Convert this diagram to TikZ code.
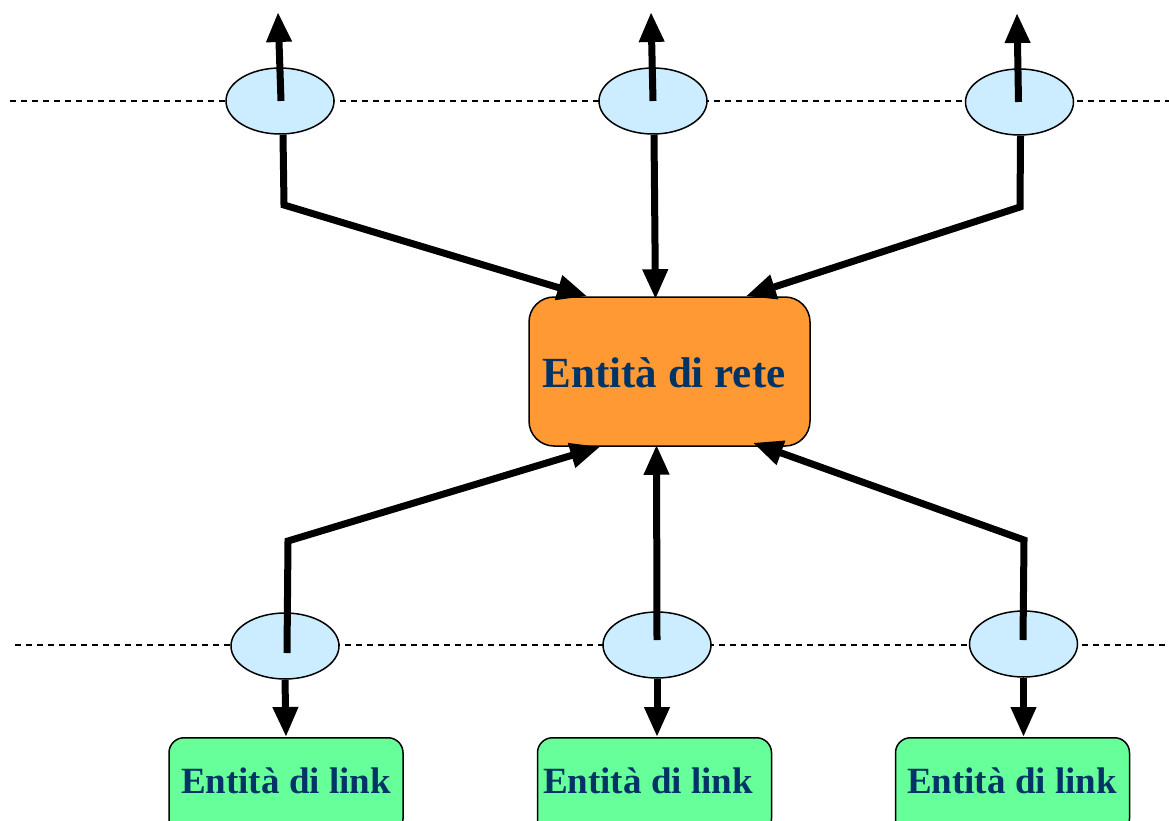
\documentclass[tikz,border=0pt]{standalone}
\usepackage{fontspec}
\setmainfont{Liberation Serif}
\usetikzlibrary{arrows.meta,shapes.geometric}
\definecolor{txtblue}{HTML}{003366}
\definecolor{reteorange}{HTML}{FF9933}
\definecolor{linkgreen}{HTML}{66FF99}
\definecolor{sapblue}{HTML}{CCECFF}
\tikzset{
  sap/.style={ellipse,draw=black,line width=1.5pt,fill=sapblue,minimum width=108pt,minimum height=66pt,inner sep=0pt},
  retebox/.style={rectangle,rounded corners=25pt,draw=black,line width=1.5pt,fill=reteorange,minimum width=281pt,minimum height=149pt,inner sep=0pt},
  linkbox/.style={rectangle,rounded corners=15pt,draw=black,line width=1.5pt,fill=linkgreen,minimum width=234pt,minimum height=96pt,inner sep=0pt},
  retetext/.style={text=txtblue,font=\bfseries\fontsize{43}{48}\selectfont,inner sep=0pt},
  linktext/.style={text=txtblue,font=\bfseries\fontsize{37}{42}\selectfont,inner sep=0pt},
  flow/.style={line width=7pt,line join=miter,-{Triangle[length=30pt,width=24pt]}},
  layer/.style={line width=1.4pt,dash pattern=on 6pt off 5pt},
}
\begin{document}
\begin{tikzpicture}[x=1pt,y=-1pt]
\useasboundingbox (0,0) rectangle (1169,821);
% dashed layer lines
\coordinate (dl1) at (10,101);
\coordinate (dr1) at (1169,101);
\coordinate (dl2) at (15,645);
\coordinate (dr2) at (1169,645);
\draw[layer] (dl1) -- (dr1);
\draw[layer] (dl2) -- (dr2);
% nodes
\node[sap] (t1) at (280,101) {};
\node[sap] (t2) at (653,101) {};
\node[sap] (t3) at (1019.5,102) {};
\node[sap] (b1) at (285,646) {};
\node[sap] (b2) at (657,645) {};
\node[sap] (b3) at (1023.5,644) {};
\node[retebox] (rete) at (669.5,371.5) {};
\node[retetext] (retet) at (664,373) {Entità di rete};
\node[linkbox,anchor=north] (l1) at (286,737) {};
\node[linkbox,anchor=north] (l2) at (654.5,737) {};
\node[linkbox,anchor=north] (l3) at (1012.5,737) {};
\node[linktext] (l1t) at (286,781) {Entità di link};
\node[linktext] (l2t) at (648,781) {Entità di link};
\node[linktext] (l3t) at (1012,781) {Entità di link};
% free ends and bends
\coordinate (u1) at (278,12);
\coordinate (u2) at (651,12);
\coordinate (u3) at (1017,13);
\coordinate (k1) at (284,205);
\coordinate (k3) at (1020,207);
\coordinate (m1) at (288,541);
\coordinate (m3) at (1024,540);
% upward arrows out of top SAPs
\draw[flow] ([xshift=1pt]t1.center) -- (u1);
\draw[flow] (t2.center) -- (u2);
\draw[flow] ([xshift=-1pt]t3.center) -- (u3);
% top SAPs to network entity
\draw[flow] ([xshift=3pt]t1.south) -- (k1) -- ([xshift=59pt]rete.north west);
\draw[flow] ([xshift=1pt]t2.south) -- ([xshift=-14pt,yshift=-3pt]rete.north);
\draw[flow] ([xshift=1pt]t3.south) -- (k3) -- ([xshift=-65pt]rete.north east);
% bottom SAPs to network entity
\draw[flow] ([xshift=2pt,yshift=-7pt]b1.center) -- (m1) -- ([xshift=72pt]rete.south west);
\draw[flow] ([yshift=5pt]b2.center) -- ([xshift=-13pt,yshift=2pt]rete.south);
\draw[flow] ([xshift=-0.5pt,yshift=4pt]b3.center) -- (m3) -- ([xshift=-58pt,yshift=4pt]rete.south east);
% bottom SAPs to link entities
\draw[flow] (b1.south) -- (l1.north);
\draw[flow] (b2.south) -- ([xshift=2.5pt]l2.north);
\draw[flow] (b3.south) -- ([xshift=11pt]l3.north);
\end{tikzpicture}
\end{document}
